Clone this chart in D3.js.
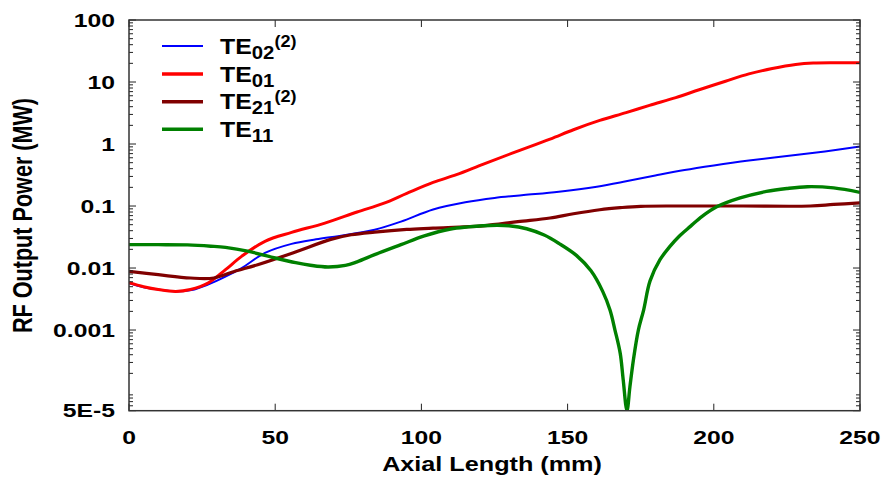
<!DOCTYPE html>
<html>
<head>
<meta charset="utf-8">
<script src="https://cdn.jsdelivr.net/npm/d3@7"></script>
<style>
  body { margin: 0; background: #fff; }
  text { font-family: "Liberation Sans", Arial, sans-serif; font-weight: bold; fill: #000; }
</style>
</head>
<body>
<script>
// Data (power in MW vs axial length in mm)
var te02X = [0, 5, 10, 16, 21.4, 27, 32.8, 38.5, 46.5, 55.6, 64, 72, 84, 93, 104, 115, 125, 135, 147, 160, 170, 180, 190, 200, 212, 225, 238, 250];
var te02Y = [0.0057, 0.0049, 0.0045, 0.0042, 0.0044, 0.0054, 0.0072, 0.01, 0.0175, 0.0245, 0.029, 0.033, 0.0415, 0.056, 0.088, 0.115, 0.135, 0.15, 0.17, 0.205, 0.25, 0.31, 0.38, 0.45, 0.54, 0.64, 0.76, 0.91];

var te01X = [0, 5, 10, 16, 21, 27, 33, 38.5, 46.5, 55.6, 67, 78, 87, 95, 104, 112, 121, 132, 144, 152, 161, 170, 178, 187, 195, 204, 212, 220, 228, 234, 242, 250];
var te01Y = [0.0058, 0.005, 0.0045, 0.0042, 0.0045, 0.0057, 0.0094, 0.0154, 0.027, 0.0375, 0.053, 0.08, 0.11, 0.16, 0.24, 0.32, 0.47, 0.74, 1.2, 1.7, 2.4, 3.2, 4.2, 5.6, 7.5, 10.3, 13.5, 16.5, 19.2, 20.3, 20.5, 20.5];

var te21X = [0, 10, 21, 29, 36, 44, 56, 69, 76, 84, 95, 104, 121, 133, 144, 152, 161, 168, 175, 190, 210, 233, 241, 250];
var te21Y = [0.0088, 0.0078, 0.0069, 0.0069, 0.0088, 0.0113, 0.0175, 0.029, 0.0344, 0.038, 0.042, 0.044, 0.048, 0.056, 0.064, 0.075, 0.087, 0.094, 0.099, 0.1, 0.1, 0.1, 0.106, 0.112];

var te11X = [0, 10, 20, 28, 33, 41, 50, 57, 62, 68, 74, 78, 84, 93, 101, 110, 116, 121, 126, 130, 136, 142, 147, 153, 158, 162, 164.5, 166.2, 168, 169, 170.3, 171.3, 172.5, 174.2, 176, 178.2, 181.6, 185, 188, 192, 196, 201, 209, 218, 225, 232, 241, 250];
var te11Y = [0.0238, 0.0238, 0.0236, 0.0225, 0.0215, 0.0185, 0.0145, 0.0122, 0.0111, 0.0104, 0.011, 0.0126, 0.0164, 0.0238, 0.033, 0.0426, 0.046, 0.0481, 0.049, 0.0481, 0.043, 0.034, 0.025, 0.016, 0.009, 0.0042, 0.0021, 0.001, 0.00042, 0.00016, 0.00005, 0.00012, 0.00033, 0.001, 0.0021, 0.0062, 0.0136, 0.0223, 0.032, 0.047, 0.068, 0.097, 0.135, 0.172, 0.192, 0.205, 0.196, 0.166];

var seriesNames = ["TE02", "TE01", "TE21", "TE11"];
var seriesSub = ["02", "01", "21", "11"];
var seriesSup = ["(2)", "", "(2)", ""];
var seriesColors = ["#0000ff", "#ff0000", "#800000", "#008000"];
var seriesWidths = [2, 3, 3.2, 3.4];

var xTicks = [0, 50, 100, 150, 200, 250];
var yTicks = [100, 10, 1, 0.1, 0.01, 0.001, 0.00005];
var yTickLabels = ["100", "10", "1", "0.1", "0.01", "0.001", "5E-5"];

var width = 883;
var height = 479;

var svg = d3.select('body').append('svg')
  .attr('width', width).attr('height', height);

var x = d3.scaleLinear().domain([0, 250]).range([129, 860]);
var y = d3.scaleLog().domain([0.00005, 100]).range([410.7, 20]);

// text in the picture is wider than it is tall, so stretch it sideways
function wideText(px, py, sx, size, anchor, txt) {
  return svg.append('text')
    .attr('transform', 'translate(' + px + ',' + py + ') scale(' + sx + ',1)')
    .attr('text-anchor', anchor)
    .style('font-size', size + 'px')
    .text(txt);
}

// clip the curves to the frame
svg.append('clipPath').attr('id', 'plot')
  .append('rect').attr('x', 129).attr('y', 20).attr('width', 731).attr('height', 390.7);

var line = d3.line()
  .x(function(d) { return x(d[0]); })
  .y(function(d) { return y(d[1]); })
  .curve(d3.curveCatmullRom.alpha(0.5));

var allX = [te02X, te01X, te21X, te11X];
var allY = [te02Y, te01Y, te21Y, te11Y];

var curves = svg.append('g').attr('clip-path', 'url(#plot)');
for (var i = 0; i < 4; i++) {
  var pts = d3.zip(allX[i], allY[i]);
  curves.append('path').datum(pts)
    .attr('d', line)
    .attr('fill', 'none')
    .attr('stroke', seriesColors[i])
    .attr('stroke-width', seriesWidths[i]);
}

// y minor ticks on both sides (2..9 per decade)
var minor = [];
for (var e = -5; e < 2; e++) {
  for (var k = 2; k < 10; k++) {
    var v = k * Math.pow(10, e);
    if (v > 0.00005 && v < 100) minor.push(v);
  }
}
var ticksG = svg.append('g').attr('stroke', '#222').attr('stroke-width', 1);
minor.forEach(function(v) {
  ticksG.append('line').attr('x1', 129).attr('x2', 133).attr('y1', y(v)).attr('y2', y(v));
  ticksG.append('line').attr('x1', 860).attr('x2', 856).attr('y1', y(v)).attr('y2', y(v));
});
yTicks.forEach(function(v) {
  ticksG.append('line').attr('x1', 129).attr('x2', 136).attr('y1', y(v)).attr('y2', y(v));
  ticksG.append('line').attr('x1', 860).attr('x2', 853).attr('y1', y(v)).attr('y2', y(v));
});
xTicks.forEach(function(v) {
  ticksG.append('line').attr('x1', x(v)).attr('x2', x(v)).attr('y1', 410.7).attr('y2', 403.7);
  ticksG.append('line').attr('x1', x(v)).attr('x2', x(v)).attr('y1', 20).attr('y2', 27);
});

// frame
svg.append('rect').attr('x', 129).attr('y', 20).attr('width', 731).attr('height', 390.7)
  .attr('fill', 'none').attr('stroke', '#333').attr('stroke-width', 1.5);

// tick labels
yTicks.forEach(function(v, j) {
  wideText(115, y(v) + 6.5, 1.33, 18.6, 'end', yTickLabels[j]);
});
xTicks.forEach(function(v) {
  wideText(x(v), 444, 1.33, 18.6, 'middle', v);
});

// axis titles
wideText(492, 471, 1.2, 21, 'middle', 'Axial Length (mm)');
svg.append('text')
  .attr('transform', 'translate(31.5,215.5) scale(1.3,1) rotate(-90)')
  .attr('text-anchor', 'middle')
  .style('font-size', '21.6px')
  .text('RF Output Power (MW)');

// legend
var legendY = [46, 74, 101.7, 129.3];
for (var i = 0; i < 4; i++) {
  svg.append('line').attr('x1', 162).attr('x2', 203)
    .attr('y1', legendY[i]).attr('y2', legendY[i])
    .attr('stroke', seriesColors[i]).attr('stroke-width', i == 0 ? 2 : 3.5);
  var t = svg.append('text')
    .attr('transform', 'translate(220,' + (legendY[i] + 7.5) + ') scale(1.13,1)')
    .style('font-size', '22px');
  t.append('tspan').text('TE');
  t.append('tspan').attr('dy', 5).style('font-size', '18px').text(seriesSub[i]);
  if (seriesSup[i]) {
    t.append('tspan').attr('dy', -12).style('font-size', '16px').text(seriesSup[i]);
  }
}
</script>
</body>
</html>
